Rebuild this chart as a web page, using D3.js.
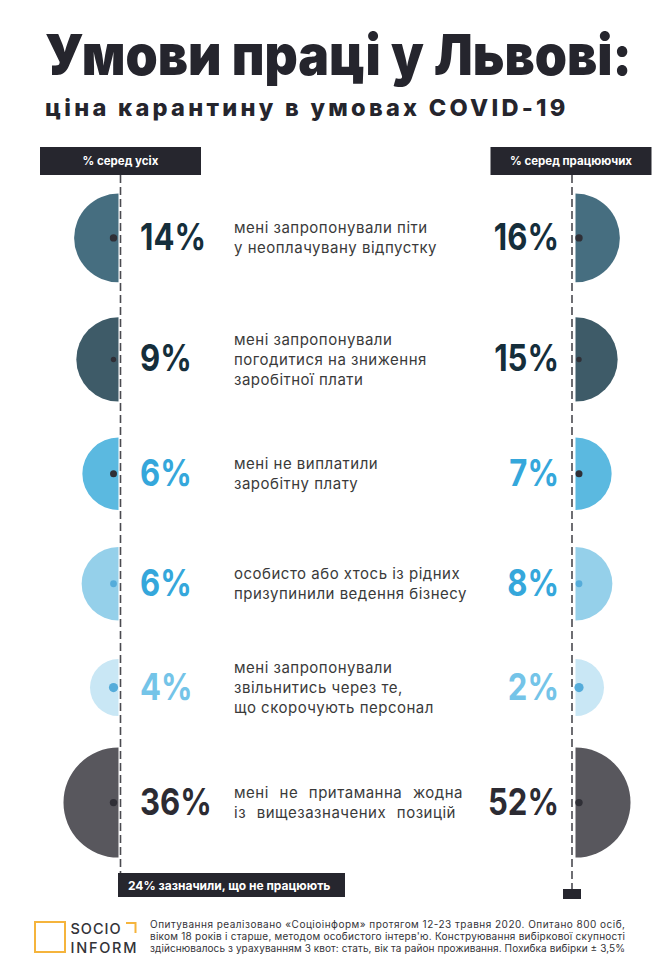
<!DOCTYPE html>
<html>
<head>
<meta charset="utf-8">
<script src="https://cdn.jsdelivr.net/npm/d3@7"></script>
<style>
  html, body { margin: 0; padding: 0; background: #ffffff; }
  svg { display: block; }
  text { font-family: Inter, "Noto Sans", "DejaVu Sans", sans-serif; }
</style>
</head>
<body>
<svg id="chart" width="672" height="977"></svg>
<script>
// ---------------- data ----------------
const title = "Умови праці у Львові:";
const subtitle = "ціна карантину в умовах COVID-19";
const leftHeader = "% серед усіх";
const rightHeader = "% серед працюючих";
const bottomNote = "24% зазначили, що не працюють";

const categories = [
  ["мені запропонували піти", "у неоплачувану відпустку"],
  ["мені запропонували", "погодитися на зниження", "заробітної плати"],
  ["мені не виплатили", "заробітну плату"],
  ["особисто або хтось із рідних", "призупинили ведення бізнесу"],
  ["мені запропонували", "звільнитись через те,", "що скорочують персонал"],
  ["мені не притаманна жодна", "із вищезазначених позицій"]
];
const sharesAll = [14, 9, 6, 6, 4, 36];       // % серед усіх
const sharesWorking = [16, 15, 7, 8, 2, 52];  // % серед працюючих

const footerLines = [
  "Опитування реалізовано «Соціоінформ» протягом 12-23 травня 2020. Опитано 800 осіб,",
  "віком 18 років і старше, методом особистого інтерв'ю. Конструювання вибіркової скупності",
  "здійснювалось з урахуванням 3 квот: стать, вік та район проживання. Похибка вибірки ± 3,5%"
];

// ---------------- styles ----------------
const fillColors = ["#466e80", "#3e5b68", "#5bb9e0", "#95d0ea", "#c9e7f5", "#58575d"];
const pctColors  = ["#152e3b", "#152e3b", "#35a7db", "#35a7db", "#74c4e8", "#2c2b33"];
const dotKinds   = ["solid", "solid", "solid", "hatch", "hatch", "solid"];
const dotSizes   = [3.7, 2.7, 3.5, 3.4, 4.6, 3.7];
const wordSpacing = [0, 0, 0, 0, 0, 6];
const rowGaps = [35, 36, 37, 38.5, 31.5];
const dark = "#26262e";

const svg = d3.select("#chart");
const defs = svg.append("defs");
const pat = defs.append("pattern").attr("id", "hatch")
  .attr("patternUnits", "userSpaceOnUse").attr("width", 2).attr("height", 2);
pat.append("rect").attr("width", 2).attr("height", 2).attr("fill", "#8ccbe9");
pat.append("path").attr("d", "M0,0 L2,2 M2,0 L0,2").attr("stroke", "#3d9fd4").attr("stroke-width", 0.7);

// ---------------- layout ----------------
const xLeftLine = 120.5, xRightLine = 572;
const xLeftFlat = 118.5, xRightFlat = 575.5;
const firstTop = 193.5;

const means = sharesAll.map((v, i) => (v + sharesWorking[i]) / 2);
const rScale = d3.scaleLog().domain([d3.min(means), d3.max(means)]).range([28.5, 55]);
const radii = means.map(m => rScale(m));
const centers = [];
let cursorY = firstTop;
radii.forEach((r, i) => { centers.push(cursorY + r); cursorY += 2 * r + (rowGaps[i] || 0); });

// helper: scale a text horizontally around its anchor point so it has the given width
function fitWidth(sel, x, y, targetW) {
  const w = sel.node().getComputedTextLength();
  const k = targetW / w;
  sel.attr("x", 0).attr("y", 0)
     .attr("transform", `translate(${x},${y}) scale(${k},1)`);
  return sel;
}

// ---------------- title ----------------
fitWidth(svg.append("text")
  .attr("font-size", 56).attr("font-weight", 900).attr("fill", "#25252d")
  .text(title), 45, 74.5, 587);
fitWidth(svg.append("text")
  .attr("font-size", 23).attr("font-weight", 800).attr("fill", "#25252d")
  .attr("letter-spacing", 3.2)
  .text(subtitle), 45, 115.5, 524);

// ---------------- dashed guide lines ----------------
svg.append("line").attr("x1", xLeftLine).attr("x2", xLeftLine).attr("y1", 175).attr("y2", 873)
  .attr("stroke", "#4a4a50").attr("stroke-width", 1.6).attr("stroke-dasharray", "8,4");
svg.append("line").attr("x1", xRightLine).attr("x2", xRightLine).attr("y1", 175).attr("y2", 889)
  .attr("stroke", "#4a4a50").attr("stroke-width", 1.6).attr("stroke-dasharray", "8,4");

// header boxes
[[xLeftLine, leftHeader], [xRightLine - 1, rightHeader]].forEach(([cx, label]) => {
  svg.append("rect").attr("x", cx - 80.5).attr("y", 147).attr("width", 161).attr("height", 28).attr("fill", dark);
  svg.append("text").attr("x", cx).attr("y", 165).attr("text-anchor", "middle")
    .attr("font-size", 11.5).attr("font-weight", 700).attr("fill", "#ffffff").text(label);
});

// ---------------- rows ----------------
const arc = d3.arc().innerRadius(0);
const rows = svg.append("g").selectAll("g").data(categories).join("g");

rows.each(function(lines, i) {
  const g = d3.select(this);
  const cy = centers[i], r = radii[i];
  g.append("path")
    .attr("transform", `translate(${xLeftFlat},${cy})`)
    .attr("d", arc({outerRadius: r, startAngle: Math.PI, endAngle: 2 * Math.PI}))
    .attr("fill", fillColors[i]);
  g.append("path")
    .attr("transform", `translate(${xRightFlat},${cy})`)
    .attr("d", arc({outerRadius: r, startAngle: 0, endAngle: Math.PI}))
    .attr("fill", fillColors[i]);
  [xLeftFlat - 5, xRightFlat + 3.5].forEach(dx => {
    g.append("circle").attr("cx", dx).attr("cy", cy).attr("r", dotSizes[i])
      .attr("fill", dotKinds[i] === "hatch" ? "url(#hatch)" : "#2f2f36");
  });
  const lt = g.append("text")
    .attr("font-size", 37).attr("font-weight", 700).attr("fill", pctColors[i])
    .text(sharesAll[i] + "%");
  fitWidth(lt, 140, cy + 12, lt.node().getComputedTextLength() * 0.84);
  const rt = g.append("text").attr("text-anchor", "end")
    .attr("font-size", 37).attr("font-weight", 700).attr("fill", pctColors[i])
    .text(sharesWorking[i] + "%");
  fitWidth(rt, 559, cy + 12, rt.node().getComputedTextLength() * 0.84);
  const n = lines.length;
  lines.forEach((line, k) => {
    g.append("text").attr("x", 234).attr("y", cy + 5.5 + (k - (n - 1) / 2) * 20)
      .attr("font-size", 15).attr("font-weight", 400).attr("fill", "#3a3a3a")
      .attr("letter-spacing", 0.5).attr("word-spacing", wordSpacing[i])
      .text(line);
  });
});

// ---------------- bottom note ----------------
svg.append("rect").attr("x", 118).attr("y", 873).attr("width", 227).attr("height", 24).attr("fill", dark);
svg.append("text").attr("x", 128).attr("y", 889.5)
  .attr("font-size", 12).attr("font-weight", 700).attr("fill", "#ffffff").text(bottomNote);
svg.append("rect").attr("x", 563).attr("y", 889).attr("width", 18).attr("height", 10).attr("fill", dark);

// ---------------- logo ----------------
const orange = "#f5b43c";
svg.append("rect").attr("x", 35).attr("y", 922).attr("width", 30).attr("height", 30)
  .attr("fill", "none").attr("stroke", orange).attr("stroke-width", 2);
svg.append("path").attr("d", "M126,923 H135.5 V933").attr("fill", "none")
  .attr("stroke", orange).attr("stroke-width", 2);
svg.append("text").attr("x", 70.5).attr("y", 933.5).attr("font-size", 14.5).attr("font-weight", 500)
  .attr("fill", "#333338").attr("textLength", 50).attr("lengthAdjust", "spacing").text("SOCIO");
svg.append("text").attr("x", 70.5).attr("y", 952.5).attr("font-size", 14.5).attr("font-weight", 500)
  .attr("fill", "#333338").attr("textLength", 66).attr("lengthAdjust", "spacing").text("INFORM");

// ---------------- footer ----------------
footerLines.forEach((line, k) => {
  svg.append("text").attr("x", 150).attr("y", 928 + k * 12)
    .attr("font-size", 10).attr("fill", "#333338")
    .attr("textLength", 475).attr("lengthAdjust", "spacing").text(line);
});
</script>
</body>
</html>
